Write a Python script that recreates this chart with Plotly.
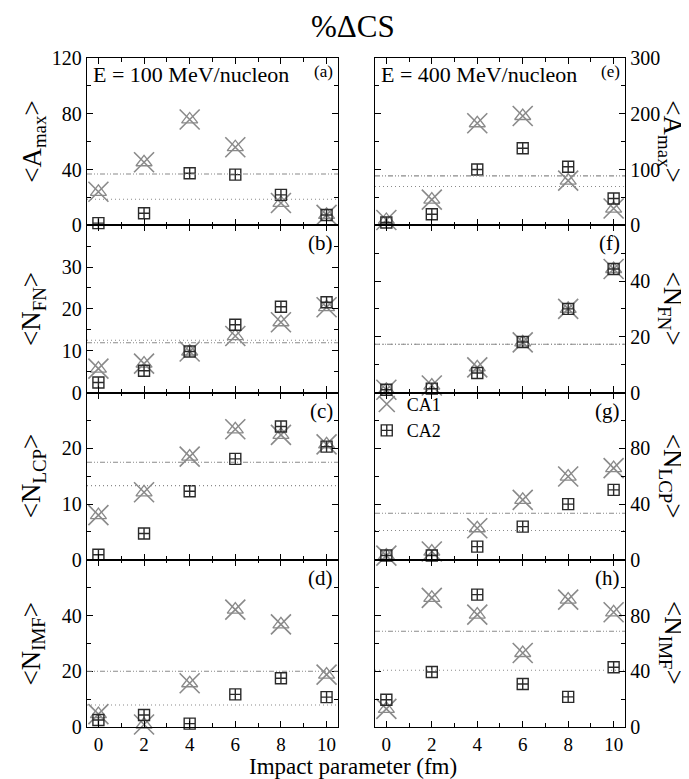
import plotly.graph_objects as go

# ---------------- data ----------------
impact = [0, 2, 4, 6, 8, 10]

# E = 100 MeV/nucleon
amax_100_ca1 = [24.0, 45.2, 75.9, 56.0, 16.0, 7.4]
amax_100_ca2 = [1.5, 8.6, 37.3, 36.3, 21.8, 7.4]
nfn_100_ca1 = [5.7, 6.9, 9.8, 13.5, 16.8, 20.4]
nfn_100_ca2 = [2.4, 5.2, 9.8, 16.2, 20.5, 21.6]
nlcp_100_ca1 = [8.0, 12.1, 18.5, 23.4, 22.4, 20.7]
nlcp_100_ca2 = [0.9, 4.7, 12.3, 18.1, 23.9, 20.3]
nimf_100_ca1 = [4.6, 0.9, 15.7, 42.1, 36.8, 18.8]
nimf_100_ca2 = [2.5, 4.3, 1.2, 11.7, 17.5, 10.7]

# E = 400 MeV/nucleon
amax_400_ca1 = [9.5, 46.0, 183.0, 196.0, 80.0, 30.0]
amax_400_ca2 = [5.0, 19.8, 100.0, 138.0, 105.0, 48.0]
nfn_400_ca1 = [1.0, 2.5, 9.0, 18.0, 30.0, 44.3]
nfn_400_ca2 = [1.0, 1.4, 7.0, 18.1, 30.0, 44.3]
nlcp_400_ca1 = [3.0, 5.9, 22.6, 43.0, 59.7, 65.7]
nlcp_400_ca2 = [3.0, 3.0, 9.4, 23.8, 39.9, 50.1]
nimf_400_ca1 = [13.0, 92.6, 80.6, 53.1, 91.4, 82.3]
nimf_400_ca2 = [19.6, 39.5, 95.0, 30.9, 21.6, 42.9]

# average lines (a,b,c,d) and (e,f,g,h)
ca1_avg_100 = [36.8, 11.9, 17.5, 20.0]
ca2_avg_100 = [18.7, 12.5, 13.3, 7.9]
ca1_avg_400 = [88.6, 17.3, 33.4, 68.7]
ca2_avg_400 = [69.5, 17.3, 21.0, 40.7]

x_ticks = [0, 2, 4, 6, 8, 10]
x_minor = [1, 3, 5, 7, 9]

FONT = "Liberation Serif, Times New Roman, Times, serif"
GRAY = "#8a8a8a"
DARK = "#2a2a2a"

panels = [
    # col, row, ca1, ca2, avg1, avg2, range, tickvals, minor, letter, ytitle
    (0, 0, amax_100_ca1, amax_100_ca2, ca1_avg_100[0], ca2_avg_100[0], [0, 120], [0, 40, 80, 120], [20, 60, 100], "(a)", "&lt;A<sub>max</sub>&gt;"),
    (0, 1, nfn_100_ca1, nfn_100_ca2, ca1_avg_100[1], ca2_avg_100[1], [0, 40], [0, 10, 20, 30], [5, 15, 25, 35], "(b)", "&lt;N<sub>FN</sub>&gt;"),
    (0, 2, nlcp_100_ca1, nlcp_100_ca2, ca1_avg_100[2], ca2_avg_100[2], [0, 30], [0, 10, 20], [5, 15, 25], "(c)", "&lt;N<sub>LCP</sub>&gt;"),
    (0, 3, nimf_100_ca1, nimf_100_ca2, ca1_avg_100[3], ca2_avg_100[3], [0, 60], [0, 20, 40], [10, 30, 50], "(d)", "&lt;N<sub>IMF</sub>&gt;"),
    (1, 0, amax_400_ca1, amax_400_ca2, ca1_avg_400[0], ca2_avg_400[0], [0, 300], [0, 100, 200, 300], [50, 150, 250], "(e)", "&lt;A<sub>max</sub>&gt;"),
    (1, 1, nfn_400_ca1, nfn_400_ca2, ca1_avg_400[1], ca2_avg_400[1], [0, 60], [0, 20, 40], [10, 30, 50], "(f)", "&lt;N<sub>FN</sub>&gt;"),
    (1, 2, nlcp_400_ca1, nlcp_400_ca2, ca1_avg_400[2], ca2_avg_400[2], [0, 120], [0, 40, 80], [20, 60, 100], "(g)", "&lt;N<sub>LCP</sub>&gt;"),
    (1, 3, nimf_400_ca1, nimf_400_ca2, ca1_avg_400[3], ca2_avg_400[3], [0, 120], [0, 40, 80], [20, 60, 100], "(h)", "&lt;N<sub>IMF</sub>&gt;"),
]

fig = go.Figure()
annotations = []
shapes = []
xdoms = [[0.0, 0.4665], [0.5353, 1.0]]

for i, (col, row, c1, c2, a1, a2, yr, tv, mv, letter, ytitle) in enumerate(panels):
    k = i + 1
    xs = "x" if k == 1 else f"x{k}"
    ys = "y" if k == 1 else f"y{k}"
    xk = "xaxis" if k == 1 else f"xaxis{k}"
    yk = "yaxis" if k == 1 else f"yaxis{k}"
    ydom = [1 - (row + 1) / 4, 1 - row / 4]

    fig.layout[xk] = dict(
        domain=xdoms[col], anchor=ys, range=[-0.5, 10.5],
        tickvals=x_ticks, ticks="inside", ticklen=6, tickwidth=1.2, tickcolor="black",
        minor=dict(tickvals=x_minor, ticks="inside", ticklen=3.5, tickwidth=1.2, tickcolor="black"),
        showline=True, linecolor="black", linewidth=1.4, mirror="ticks",
        showgrid=False, zeroline=False, showticklabels=(row == 3),
        tickfont=dict(family=FONT, size=19, color="black"),
    )
    fig.layout[yk] = dict(
        domain=ydom, anchor=xs, range=yr, side="left" if col == 0 else "right",
        tickvals=tv, ticks="inside", ticklen=6, tickwidth=1.2, tickcolor="black",
        minor=dict(tickvals=mv, ticks="inside", ticklen=3.5, tickwidth=1.2, tickcolor="black"),
        showline=True, linecolor="black", linewidth=1.4, mirror="ticks",
        showgrid=False, zeroline=False,
        tickfont=dict(family=FONT, size=20, color="black"),
    )

    # average lines
    shapes.append(dict(type="line", xref=f"{xs} domain", yref=ys, x0=0, x1=1, y0=a1, y1=a1,
                       line=dict(color=GRAY, width=1.1, dash="5px,2px,1px,2px,1px,2px")))
    shapes.append(dict(type="line", xref=f"{xs} domain", yref=ys, x0=0, x1=1, y0=a2, y1=a2,
                       line=dict(color=GRAY, width=1.1, dash="1px,3px")))

    show = (k == 7)
    fig.add_trace(go.Scatter(x=impact, y=c1, mode="markers", xaxis=xs, yaxis=ys, name="CA1",
                             showlegend=show, legendgroup="ca1", cliponaxis=False,
                             marker=dict(symbol="x-thin-open", size=20, color=GRAY,
                                         line=dict(color=GRAY, width=1.6))))
    fig.add_trace(go.Scatter(x=impact, y=c1, mode="markers", xaxis=xs, yaxis=ys, name="CA1",
                             showlegend=False, legendgroup="ca1", cliponaxis=False,
                             marker=dict(symbol="triangle-up-open", size=14, color=GRAY,
                                         line=dict(color=GRAY, width=1.3))))
    fig.add_trace(go.Scatter(x=impact, y=c2, mode="markers", xaxis=xs, yaxis=ys, name="CA2",
                             showlegend=show, legendgroup="ca2", cliponaxis=False,
                             marker=dict(symbol="square-cross-open", size=11, color=DARK,
                                         line=dict(color=DARK, width=1.4))))

    # panel letters
    big = row > 0
    annotations.append(dict(text=letter, xref=f"{xs} domain", yref=f"{ys} domain",
                            x=0.99, y=0.99 if row == 0 else 0.975, xanchor="right", yanchor="top",
                            showarrow=False, font=dict(family=FONT, size=21 if big else 17, color="black")))
    # y titles
    ymid = (ydom[0] + ydom[1]) / 2
    if col == 0:
        annotations.append(dict(text=ytitle, xref="paper", yref="paper", x=-0.1, y=ymid,
                                xanchor="center", yanchor="middle", textangle=-90, showarrow=False,
                                font=dict(family=FONT, size=27, color="black")))
    else:
        annotations.append(dict(text=ytitle, xref="paper", yref="paper", x=1.086, y=ymid,
                                xanchor="center", yanchor="middle", textangle=90, showarrow=False,
                                font=dict(family=FONT, size=27, color="black")))

annotations.append(dict(text="E = 100 MeV/nucleon", xref="x domain", yref="y domain", x=0.015, y=0.99,
                        xanchor="left", yanchor="top", showarrow=False,
                        font=dict(family=FONT, size=22, color="black")))
annotations.append(dict(text="E = 400 MeV/nucleon", xref="x5 domain", yref="y5 domain", x=0.015, y=0.99,
                        xanchor="left", yanchor="top", showarrow=False,
                        font=dict(family=FONT, size=22, color="black")))
annotations.append(dict(text="%ΔCS", xref="paper", yref="paper", x=0.494, y=1.047,
                        xanchor="center", yanchor="middle", showarrow=False,
                        font=dict(family=FONT, size=31, color="black")))
annotations.append(dict(text="Impact parameter (fm)", xref="paper", yref="paper", x=0.494, y=-0.0595,
                        xanchor="center", yanchor="middle", showarrow=False,
                        font=dict(family=FONT, size=23, color="black")))

fig.update_layout(
    width=689, height=779,
    margin=dict(l=79, r=72, t=50, b=60, autoexpand=False),
    paper_bgcolor="white", plot_bgcolor="white",
    shapes=shapes, annotations=annotations,
    showlegend=True,
    legend=dict(x=0.52, y=0.51, xanchor="left", yanchor="top", bgcolor="rgba(0,0,0,0)",
                font=dict(family=FONT, size=18, color="black"), tracegroupgap=0, itemsizing="trace"),
    font=dict(family=FONT, color="black"),
)

fig.write_html("out.html")
